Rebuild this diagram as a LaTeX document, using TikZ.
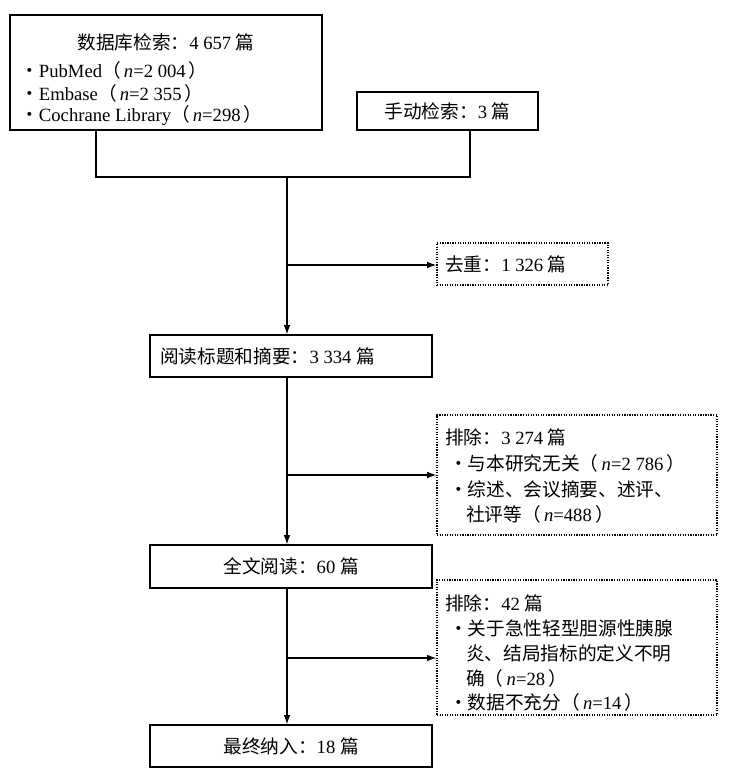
\documentclass[tikz,border=0pt]{standalone}
\usepackage{fontspec}
\usetikzlibrary{arrows.meta}
\setmainfont{Liberation Serif}
\newfontfamily\cjk{Noto Sans CJK SC}
\newcommand{\zh}[1]{{\cjk #1}}
\begin{document}
\begin{tikzpicture}[x=0.75pt,y=-0.75pt,
  box/.style={draw,line width=0.9pt,inner sep=0pt},
  dbox/.style={draw,densely dotted,line width=0.9pt,inner sep=0pt},
  txt/.style={inner sep=0pt,anchor=west,font=\fontsize{14}{17}\selectfont},
  ctxt/.style={inner sep=0pt,font=\fontsize{14}{17}\selectfont},
  ln/.style={line width=0.9pt},
  arr/.style={line width=0.9pt,-{Latex[length=7pt,width=5pt]}}]
\useasboundingbox (0,0) rectangle (733,779);
\node[box,minimum width=312*0.75pt,minimum height=115*0.75pt] (db) at (166,72.5) {};
\node[ctxt] (dbt) at (166,42) {\zh{数据库检索：}4 657 \zh{篇}};
\node[txt] (b1) at (20,70) {\zh{·}PubMed\zh{（}\,\textit{n}=2 004\,\zh{）}};
\node[txt] (b2) at (20,93) {\zh{·}Embase\zh{（}\,\textit{n}=2 355\,\zh{）}};
\node[txt] (b3) at (20,116) {\zh{·}Cochrane Library\zh{（}\,\textit{n}=298\,\zh{）}};
\node[box,minimum width=181*0.75pt,minimum height=38*0.75pt] (man) at (447.5,111) {};
\node[ctxt] (mant) at (447.5,111) {\zh{手动检索：}3 \zh{篇}};
\coordinate (j1) at (96,177); \coordinate (j2) at (470,177); \coordinate (j0) at (287,177);
\draw[ln] (db.south -| j1) -- (j1) -- (j2) -- (man.south -| j2);
\node[dbox,minimum width=171*0.75pt,minimum height=42*0.75pt] (dup) at (522.5,264) {};
\node[txt] (dupt) at (445,264) {\zh{去重：}1 326 \zh{篇}};
\node[box,minimum width=282*0.75pt,minimum height=42*0.75pt] (read) at (291,356) {};
\node[txt] (readt) at (160,356) {\zh{阅读标题和摘要：}3 334 \zh{篇}};
\draw[arr] (j0) -- (read.north -| j0);
\coordinate (k1) at (287,265);
\draw[arr] (k1) -- (dup.west |- k1);
\node[dbox,minimum width=280*0.75pt,minimum height=120*0.75pt] (ex1) at (577,475) {};
\node[txt] at (445,437) {\zh{排除：}3 274 \zh{篇}};
\node[txt] at (449,463) {\zh{·与本研究无关（}\,\textit{n}=2 786\,\zh{）}};
\node[txt] at (449,489) {\zh{·综述、会议摘要、述评、}};
\node[txt] at (466,514) {\zh{社评等（}\,\textit{n}=488\,\zh{）}};
\node[box,minimum width=282*0.75pt,minimum height=43*0.75pt] (full) at (291,566.5) {};
\node[ctxt] at (291,566.5) {\zh{全文阅读：}60 \zh{篇}};
\draw[arr] (read.south -| j0) -- (full.north -| j0);
\coordinate (k2) at (287,475);
\draw[arr] (k2) -- (ex1.west |- k2);
\node[dbox,minimum width=280*0.75pt,minimum height=135*0.75pt] (ex2) at (577,647.5) {};
\node[txt] at (445,603) {\zh{排除：}42 \zh{篇}};
\node[txt] at (449,628) {\zh{·关于急性轻型胆源性胰腺}};
\node[txt] at (466,653) {\zh{炎、结局指标的定义不明}};
\node[txt] at (466,678) {\zh{确（}\,\textit{n}=28\,\zh{）}};
\node[txt] at (449,702) {\zh{·数据不充分（}\,\textit{n}=14\,\zh{）}};
\node[box,minimum width=282*0.75pt,minimum height=42*0.75pt] (fin) at (291,746) {};
\node[ctxt] at (291,746) {\zh{最终纳入：}18 \zh{篇}};
\draw[arr] (full.south -| j0) -- (fin.north -| j0);
\coordinate (k3) at (287,658);
\draw[arr] (k3) -- (ex2.west |- k3);
\end{tikzpicture}
\end{document}
